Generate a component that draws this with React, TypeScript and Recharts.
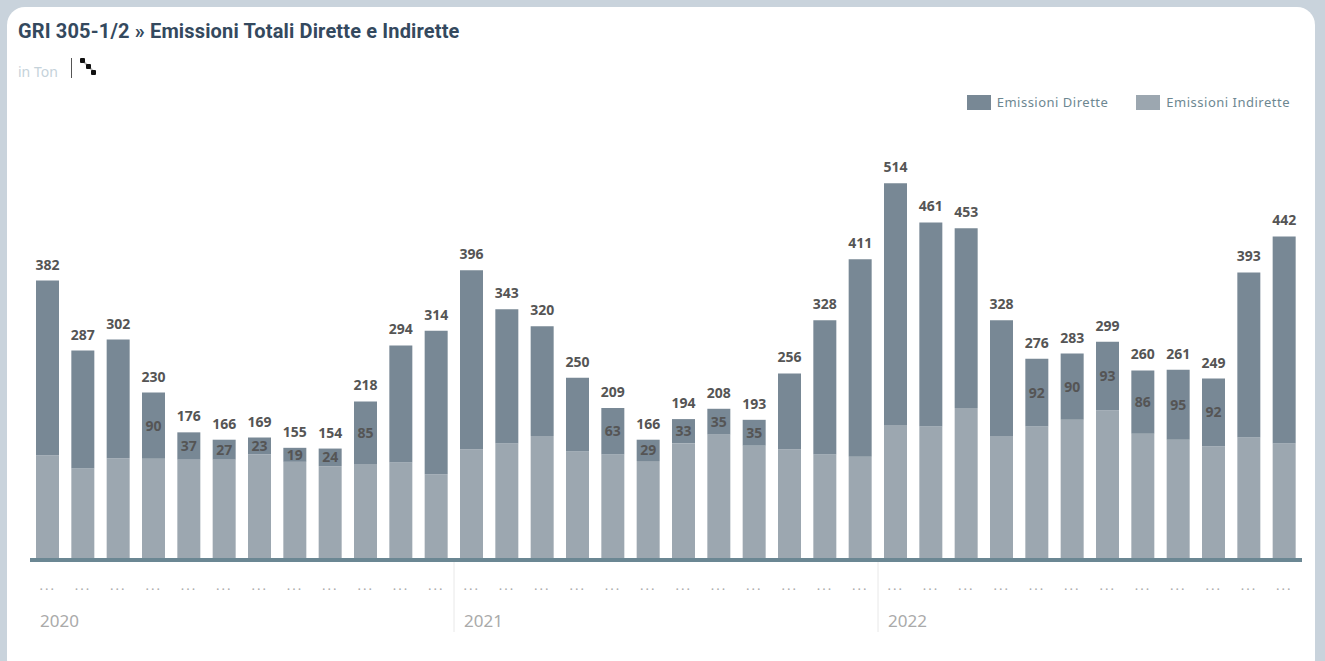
import { Bar, BarChart, LabelList, Legend, XAxis, YAxis } from 'recharts'

// valori in tonnellate, mese per mese 2020-2022
const months = [
  'gen 20', 'feb 20', 'mar 20', 'apr 20', 'mag 20', 'giu 20', 'lug 20', 'ago 20', 'set 20', 'ott 20', 'nov 20', 'dic 20',
  'gen 21', 'feb 21', 'mar 21', 'apr 21', 'mag 21', 'giu 21', 'lug 21', 'ago 21', 'set 21', 'ott 21', 'nov 21', 'dic 21',
  'gen 22', 'feb 22', 'mar 22', 'apr 22', 'mag 22', 'giu 22', 'lug 22', 'ago 22', 'set 22', 'ott 22', 'nov 22', 'dic 22',
]
const dirette = [
  237, 160, 161, 90, 37, 27, 23, 19, 24, 85, 159, 195,
  243, 182, 149, 100, 63, 29, 33, 35, 35, 103, 182, 268,
  328, 277, 244, 157, 92, 90, 93, 86, 95, 92, 224, 281,
]
const indirette = [
  145, 127, 141, 140, 139, 139, 146, 136, 130, 133, 135, 119,
  153, 161, 171, 150, 146, 137, 161, 173, 158, 153, 146, 143,
  186, 184, 209, 171, 184, 193, 206, 174, 166, 157, 169, 161,
]
const yearStarts: Record<string, string> = { 'gen 20': '2020', 'gen 21': '2021', 'gen 22': '2022' }

const data = months.map((month, i) => ({
  month,
  dirette: dirette[i],
  indirette: indirette[i],
  totale: dirette[i] + indirette[i],
  // il valore interno si vede solo sotto quota 100
  interno: dirette[i] < 100 ? dirette[i] : null,
}))

const FONT = '"Noto Sans", sans-serif'
const BAND = 1272 / 36

function MonthTick({ x, y, payload }: any) {
  const year = yearStarts[payload.value]
  return (
    <g>
      <text x={x} y={y + 20} textAnchor="middle" fontSize={13} fill="#aaaaaa" fontFamily={FONT} letterSpacing={2}>
        ...
      </text>
      {year && (
        <text x={x - BAND / 2 + 10} y={y + 57} fontSize={17} fill="#aaaaaa" fontFamily={FONT}>
          {year}
        </text>
      )}
      {year && year !== '2020' && (
        <line x1={x - BAND / 2} x2={x - BAND / 2} y1={y - 8} y2={y + 62} stroke="#e8e8e8" />
      )}
    </g>
  )
}

function ChartLegend({ payload }: any) {
  return (
    <div style={{ display: 'flex', justifyContent: 'flex-end', gap: 28, fontFamily: FONT, fontSize: 13 }}>
      {payload.map((p: any) => (
        <div key={p.value} style={{ display: 'flex', alignItems: 'center', color: '#6d8791', letterSpacing: 0.5 }}>
          <span style={{ width: 24, height: 15, background: p.color, marginRight: 6 }} />
          {p.value}
        </div>
      ))}
    </div>
  )
}

export default function App() {
  return (
    <div style={{ position: 'absolute', left: 0, top: 0, width: 1325, height: 661, background: '#c9d3dc', overflow: 'hidden' }}>
      <div style={{ position: 'absolute', left: 7, top: 7, width: 1308, height: 670, background: '#fff', borderRadius: 18 }} />
      <div style={{ position: 'absolute', left: 18, top: 19, fontFamily: 'Roboto, sans-serif', fontSize: 20, fontWeight: 700, letterSpacing: 0.15, color: '#34495e', whiteSpace: 'nowrap' }}>
        GRI 305-1/2 » Emissioni Totali Dirette e Indirette
      </div>
      <div style={{ position: 'absolute', left: 18, top: 62, fontFamily: FONT, fontSize: 14, color: '#c5d2da' }}>in Ton</div>
      <div style={{ position: 'absolute', left: 71, top: 58, width: 1, height: 20, background: '#555' }} />
      <svg style={{ position: 'absolute', left: 78, top: 56 }} width={20} height={22}>
        <path d="M4 4 L10 10 L16 16" stroke="#bbb" strokeWidth={2} fill="none" />
        <rect x={2} y={2} width={5} height={5} rx={1} fill="#111" />
        <rect x={8} y={8} width={5} height={5} rx={1} fill="#111" />
        <rect x={13} y={14} width={5} height={5} rx={1} fill="#111" />
      </svg>
      <div style={{ position: 'absolute', left: 0, top: 0 }}>
        <BarChart
          width={1325}
          height={661}
          data={data}
          barSize={23}
          margin={{ top: 104, right: 23, left: 30, bottom: 0 }}
        >
          <XAxis
            dataKey="month"
            interval={0}
            height={99}
            tickLine={false}
            tick={<MonthTick />}
            axisLine={{ stroke: '#6b8793', strokeWidth: 4, transform: 'translate(0 -2)' }}
          />
          <YAxis hide domain={[0, 600]} />
          <Legend
            verticalAlign="top"
            align="right"
            content={<ChartLegend />}
            wrapperStyle={{ position: 'absolute', top: 93, left: 900, width: 390, height: 16 }}
          />
          <Bar dataKey="indirette" name="Emissioni Indirette" stackId="a" fill="#9ca7b0" isAnimationActive={false} />
          <Bar dataKey="dirette" name="Emissioni Dirette" stackId="a" fill="#788895" isAnimationActive={false}>
            <LabelList dataKey="interno" position="center" fontSize={14} fontWeight={700} fill="#555555" fontFamily={FONT} />
            <LabelList dataKey="totale" position="top" offset={11} fontSize={14} fontWeight={700} fill="#555555" fontFamily={FONT} />
          </Bar>
        </BarChart>
      </div>
    </div>
  )
}
